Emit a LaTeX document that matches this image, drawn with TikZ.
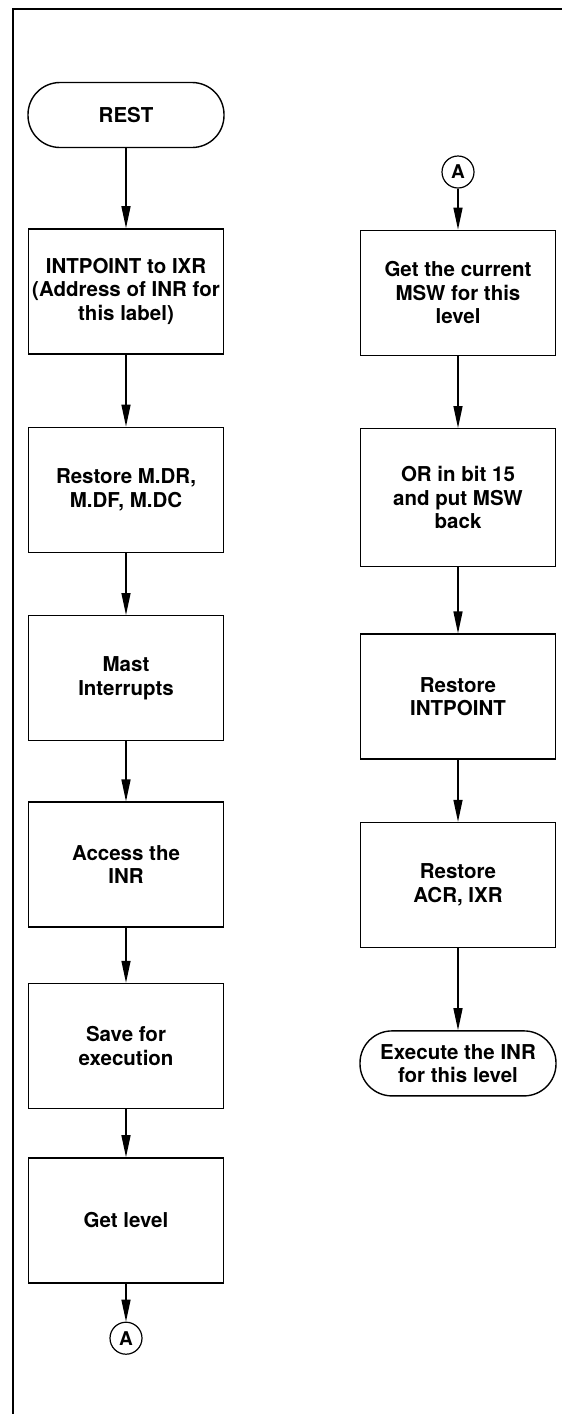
\documentclass[tikz,border=0pt]{standalone}
\usepackage{fontspec}
\setmainfont{TeX Gyre Heros}
\usepackage{tikz}
\usetikzlibrary{arrows.meta,positioning}
\tikzset{
  procbox/.style={rectangle, draw=black, line width=1.4pt, fill=white, align=center,
                  inner sep=2pt, minimum width=195pt, minimum height=125pt},
  term/.style={rectangle, rounded corners=32pt, draw=black, line width=1.4pt, fill=white,
               align=center, inner sep=2pt, minimum width=196pt, minimum height=65pt},
  conn/.style={circle, draw=black, line width=1.2pt, minimum size=32pt, inner sep=0pt,
               font=\fontsize{19}{19}\selectfont\bfseries},
  ar/.style={-{Triangle[length=22pt,width=9pt]}, line width=1.4pt}
}
\begin{document}
\begin{tikzpicture}[
  font=\fontsize{20.5}{23.5}\selectfont\bfseries,
  frame/.style={line width=1.6pt}
]
\useasboundingbox (0,0) rectangle (562pt,-1414pt);
% ---- page frame ----
\draw[frame] (13pt,-1414pt) -- (13pt,-9pt) -- (562pt,-9pt);
% ---- left column ----
\node[term] (rest) at (126pt,-115pt) {REST};
\node[procbox, below=80pt of rest] (s1) {INTPOINT to IXR\\(Address of INR for\\this label)};
\node[procbox, below=72pt of s1] (s2) {Restore M.DR,\\M.DF, M.DC};
\node[procbox, below=62pt of s2] (s3) {Mast\\Interrupts};
\node[procbox, below=60pt of s3] (s4) {Access the\\INR};
\node[procbox, below=55pt of s4] (s5) {Save for\\execution};
\node[procbox, below=48pt of s5] (s6) {Get level};
\node[conn, below=38pt of s6] (ca) {A};
% ---- right column ----
\node[conn] (cb) at (458pt,-172pt) {A};
\node[procbox, below=41pt of cb] (r1) {Get the current\\MSW for this\\level};
\node[procbox, minimum height=138pt, below=72pt of r1] (r2) {OR in bit 15\\and put MSW\\back};
\node[procbox, below=66pt of r2] (r3) {Restore\\INTPOINT};
\node[procbox, below=62pt of r3] (r4) {Restore\\ACR, IXR};
\node[term, below=82pt of r4] (exec) {Execute the INR\\for this level};
% ---- flow ----
\draw[ar] (rest) -- (s1);
\draw[ar] (s1) -- (s2);
\draw[ar] (s2) -- (s3);
\draw[ar] (s3) -- (s4);
\draw[ar] (s4) -- (s5);
\draw[ar] (s5) -- (s6);
\draw[ar] (s6) -- (ca);
\draw[ar] (cb) -- (r1);
\draw[ar] (r1) -- (r2);
\draw[ar] (r2) -- (r3);
\draw[ar] (r3) -- (r4);
\draw[ar] (r4) -- (exec);
\end{tikzpicture}
\end{document}
